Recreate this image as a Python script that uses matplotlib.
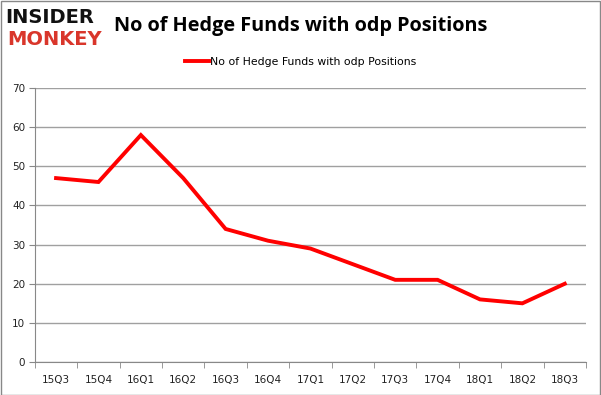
import matplotlib.pyplot as plt

quarters = ['15Q3', '15Q4', '16Q1', '16Q2', '16Q3', '16Q4', '17Q1',
            '17Q2', '17Q3', '17Q4', '18Q1', '18Q2', '18Q3']
funds = [47, 46, 58, 47, 34, 31, 29, 25, 21, 21, 16, 15, 20]
y_ticks = [0, 10, 20, 30, 40, 50, 60, 70]

label = 'No of Hedge Funds with odp Positions'

fig = plt.figure(figsize=(6.01, 3.95), dpi=100)
ax = fig.add_axes([0.058, 0.0835, 0.917, 0.6935])

x = list(range(len(quarters)))
ax.plot(x, funds, color='#ff0000', linewidth=2.8, label=label,
        solid_joinstyle='miter', zorder=3)

ax.set_xlim(-0.5, len(quarters) - 0.5)
ax.set_ylim(0, 70)
ax.set_yticks(y_ticks)
ax.set_xticks(x)
ax.set_xticklabels(quarters)
ax.set_xticks([i - 0.5 for i in range(len(quarters) + 1)], minor=True)
ax.tick_params(axis='x', which='major', length=0, pad=9,
               labelsize=7.5, colors='#222222')
ax.tick_params(axis='x', which='minor', length=4, color='#888888')
ax.tick_params(axis='y', length=4, color='#888888', labelsize=7.5,
               labelcolor='#222222', pad=3)

ax.yaxis.grid(True, color='#a0a0a0', linewidth=1)
ax.set_axisbelow(True)
for side in ['top', 'right']:
    ax.spines[side].set_visible(False)
ax.spines['left'].set_color('#888888')
ax.spines['bottom'].set_color('#888888')

fig.text(0.5, 0.935, label, ha='center', va='center', fontsize=14.3,
         fontweight='bold', family='Open Sans')
fig.text(0.008, 0.955, 'INSIDER', ha='left', va='center', fontsize=14,
         fontweight='heavy', family='DejaVu Sans', color='#111111')
fig.text(0.012, 0.9, 'MONKEY', ha='left', va='center', fontsize=14,
         fontweight='heavy', family='DejaVu Sans', color='#d9362b')

leg = fig.legend(loc='center', bbox_to_anchor=(0.5, 0.843), frameon=False,
                 fontsize=7.8, handlelength=2.2, handletextpad=0.1)

border = plt.Rectangle((0.001, 0.001), 0.997, 0.996, transform=fig.transFigure,
                       fill=False, edgecolor='#888888', linewidth=1)
fig.patches.append(border)

fig.savefig('out.png', dpi=100)
